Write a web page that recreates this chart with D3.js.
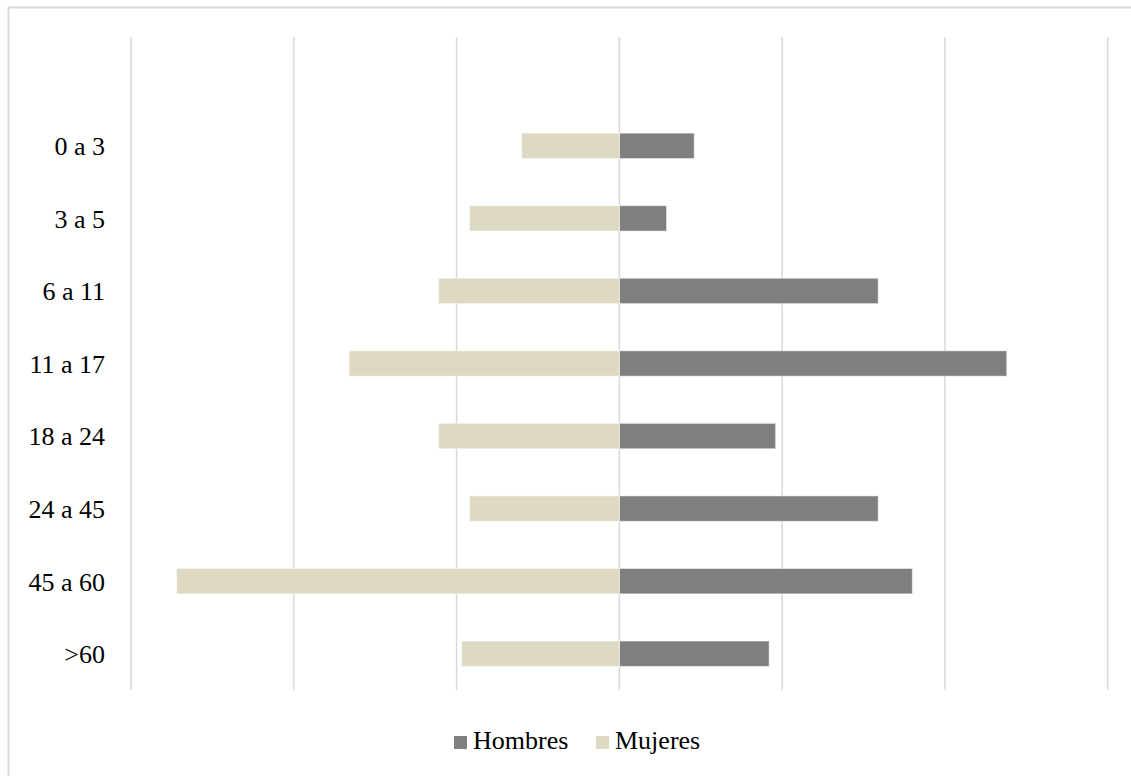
<!DOCTYPE html>
<html>
<head>
<meta charset="utf-8">
<script src="https://cdn.jsdelivr.net/npm/d3@7"></script>
<style>
  body { margin: 0; background: #fff; }
  text { font-family: "Liberation Serif", "Times New Roman", serif; fill: #000; }
</style>
</head>
<body>
<script>
// edades y porcentajes
var grupos = ["0 a 3", "3 a 5", "6 a 11", "11 a 17", "18 a 24", "24 a 45", "45 a 60", ">60"];
var hombres = [4.6, 2.9, 15.9, 23.8, 9.6, 15.9, 18.0, 9.2];
var mujeres = [6.0, 9.2, 11.1, 16.6, 11.1, 9.2, 27.2, 9.7];
var gridTicks = [-30, -20, -10, 0, 10, 20, 30];
var series = ["Hombres", "Mujeres"];
var colores = ["#7f7f7f", "#ddd9c3"];

var W = 1131, H = 776;
var svg = d3.select("body").append("svg")
    .attr("width", W)
    .attr("height", H);

// marco
svg.append("rect")
    .attr("x", 8.5).attr("y", 7.5)
    .attr("width", 1200).attr("height", 900)
    .style("fill", "#fff")
    .style("stroke", "#d9d9d9")
    .style("stroke-width", 2);

var plotTop = 37, plotBottom = 690;
var x = d3.scaleLinear().domain([-30, 30]).range([131, 1107.7]);

// la primera banda queda vacia, como en el original
var step = (plotBottom - plotTop) / (grupos.length + 1);
var y = d3.scaleBand().domain(grupos)
    .range([plotTop + step, plotBottom])
    .paddingInner(0.65).paddingOuter(0.325);

// lineas de cuadricula
svg.append("g").selectAll("line")
    .data(gridTicks)
    .enter().append("line")
    .attr("x1", d => x(d)).attr("x2", d => x(d))
    .attr("y1", plotTop).attr("y2", plotBottom)
    .style("stroke", "#d9d9d9")
    .style("stroke-width", 1.5);

var grp = svg.append("g");

grp.selectAll("rect.h")
    .data(hombres)
    .enter().append("rect")
    .attr("class", "h")
    .attr("x", x(0))
    .attr("y", (d, i) => y(grupos[i]))
    .attr("width", d => x(d) - x(0))
    .attr("height", y.bandwidth())
    .style("fill", colores[0])
    .style("stroke", "#fff").style("stroke-opacity", 0.5).style("stroke-width", 1);

grp.selectAll("rect.m")
    .data(mujeres)
    .enter().append("rect")
    .attr("class", "m")
    .attr("x", d => x(-d))
    .attr("y", (d, i) => y(grupos[i]))
    .attr("width", d => x(0) - x(-d))
    .attr("height", y.bandwidth())
    .style("fill", colores[1])
    .style("stroke", "#fff").style("stroke-opacity", 0.5).style("stroke-width", 1);

// etiquetas del eje vertical
svg.append("g").selectAll("text")
    .data(grupos)
    .enter().append("text")
    .attr("x", 105)
    .attr("y", d => y(d) + y.bandwidth() / 2)
    .attr("dy", "0.36em")
    .attr("text-anchor", "end")
    .style("font-size", "26px")
    .text(d => d);

// leyenda
var leg = svg.append("g");
var legX = [454, 596];
series.forEach(function(s, i) {
    leg.append("rect")
        .attr("x", legX[i]).attr("y", 736)
        .attr("width", 13).attr("height", 13)
        .style("fill", colores[i]);
    leg.append("text")
        .attr("x", legX[i] + 19).attr("y", 749)
        .style("font-size", "26px")
        .text(s);
});
</script>
</body>
</html>
